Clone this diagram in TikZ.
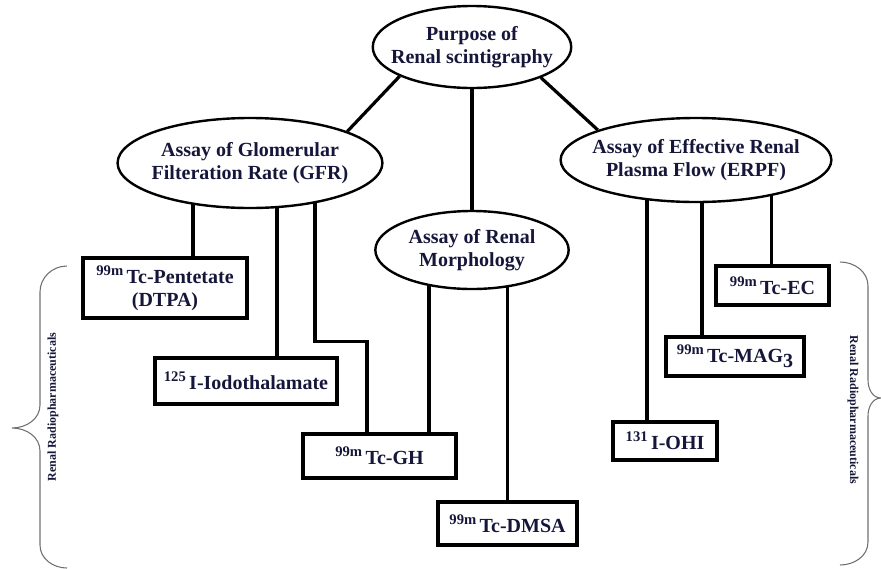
\documentclass[tikz,border=0pt]{standalone}
\usepackage{fontspec}
\setmainfont{Liberation Serif}
\usetikzlibrary{positioning, shapes.geometric}
\definecolor{ink}{HTML}{16163A}
\definecolor{bracegray}{HTML}{707070}
\pgfdeclarelayer{back}
\pgfsetlayers{back,main}
\newcommand{\iso}[1]{\raisebox{6pt}{\fontsize{11}{11}\selectfont #1}\,}
\def\link{\draw[line width=2.4pt]}

\begin{document}
\begin{tikzpicture}[x=0.75pt, y=-0.75pt,
    topic/.style={draw, ellipse, line width=1.8pt, fill=white, inner sep=0pt,
      align=center, text=ink, font=\fontsize{15}{17}\selectfont\bfseries},
    agent/.style={draw, rectangle, line width=2.4pt, fill=white, inner sep=0pt,
      align=center, text=ink, font=\fontsize{15}{17}\selectfont\bfseries},
    side/.style={text=ink, font=\fontsize{9}{10}\selectfont\bfseries}]
  \useasboundingbox (0,0) rectangle (881,568);

  \node [topic, inner xsep=-8pt, minimum height=61.5pt] (purpose) at (472,47) {Purpose of\\Renal scintigraphy};
  \node [topic, inner xsep=-3.5pt, minimum height=67.5pt] (gfr) at (250,163) {Assay of Glomerular\\Filteration Rate (GFR)};
  \node [topic, inner xsep=-5.9pt, minimum height=63pt] (erpf) at (696,160) {Assay of Effective Renal\\Plasma Flow (ERPF)};
  \node [topic, minimum width=145pt, minimum height=58.5pt] (morph) at (472,250) {Assay of Renal\\Morphology};

  \node [agent, minimum width=123pt, minimum height=45pt] (pent) at (165,288) {\iso{99m}Tc-Pentetate\\(DTPA)};
  \node [agent, minimum width=136.5pt, minimum height=34.5pt] (iodo) at (246,381) {\iso{125}I-Iodothalamate};
  \node [agent, minimum width=114.75pt, minimum height=33pt] (gh) at (379.5,456) {\iso{99m}Tc-GH};
  \node [agent, minimum width=104.25pt, minimum height=32.25pt] (dmsa) at (507.5,523.5) {\iso{99m}Tc-DMSA};
  \node [agent, minimum width=84.75pt, minimum height=29.25pt] (ec) at (772.5,285.5) {\iso{99m}Tc-EC};
  \node [agent, minimum width=103.5pt, minimum height=29.25pt] (mag) at (735,356.5) {\iso{99m}Tc-MAG\raisebox{-4pt}{3}};
  \node [agent, minimum width=78pt, minimum height=28.5pt] (ohi) at (665,441) {\iso{131}I-OHI};

  \node [side, rotate=90] (lefttag) at (53,407) {Renal Radiopharmaceuticals};
  \node [side, rotate=-90] (righttag) at (853,410) {Renal Radiopharmaceuticals};

  \begin{pgfonlayer}{back}
    \link (purpose.202.5) -- (gfr.18.8);
    \link (purpose.336.3) -- (erpf.163.7);
    \link (purpose.center) -- (morph.center);
    \link ([xshift=21pt]pent.north) -- ([xshift=21pt]pent.north |- gfr.center);
    \link ([xshift=23.25pt]iodo.north) -- ([xshift=23.25pt]iodo.north |- gfr.center);
    \link ([xshift=-9.4pt]gh.north) -- ++(0,-91) -| ([xshift=48.75pt]gfr.center);
    \link ([xshift=37.1pt]gh.north) -- ([xshift=37.1pt]gh.north |- morph.center);
    \link (dmsa.north) -- (dmsa.north |- morph.center);
    \link ([xshift=-13.5pt]ohi.north) -- ([xshift=-13.5pt]ohi.north |- erpf.center);
    \link ([xshift=-24.75pt]mag.north) -- ([xshift=-24.75pt]mag.north |- erpf.center);
    \link ([xshift=-1pt]ec.north) -- ([xshift=-1pt]ec.north |- erpf.center);
  \end{pgfonlayer}

  % braces
  \draw [bracegray, line width=0.8pt] (67,266) to[out=180,in=90] (40,292) -- (40,405)
    to[out=-90,in=0] (12,428) to[out=0,in=90] (40,451) -- (40,545) to[out=-90,in=180] (67,568);
  \draw [bracegray, line width=0.8pt] (840,262) to[out=0,in=90] (868,286) -- (868,380)
    to[out=-90,in=180] (881,398) to[out=180,in=90] (868,416) -- (868,542) to[out=-90,in=0] (840,565);
\end{tikzpicture}
\end{document}
